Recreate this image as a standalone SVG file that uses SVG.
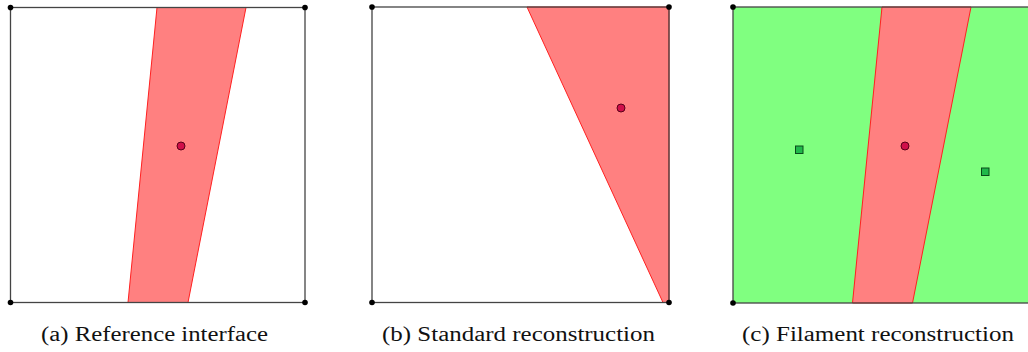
<svg xmlns="http://www.w3.org/2000/svg" width="1028" height="352" viewBox="0 0 1028 352">
<style>
.bg{fill:#ffffff}
.frame{fill:none;stroke:#444;stroke-width:1.3}
.red{fill:#ff8080;stroke:#ff2020;stroke-width:1}
.green{fill:#80ff80;stroke:none}
.corner{fill:#000}
.pt{fill:#d0104a;stroke:#5a0018;stroke-width:1}
.sq{fill:#20b84a;stroke:#0a4a1a;stroke-width:1}
.cap{font-family:'Liberation Serif','Times New Roman',serif;font-size:20.5px;fill:#111}
</style>
<rect x="0" y="0" width="1028" height="352" class="bg"/>
<g id="panel-a">
  <polygon class="red" points="157,7.5 246,7.5 188,302.5 128,302.5"/>
  <rect class="frame" x="10.5" y="7.5" width="294.5" height="295"/>
  <circle class="corner" cx="10.5" cy="7.5" r="2.8"/>
  <circle class="corner" cx="305" cy="7.5" r="2.8"/>
  <circle class="corner" cx="10.5" cy="302.5" r="2.8"/>
  <circle class="corner" cx="305" cy="302.5" r="2.8"/>
  <circle class="pt" cx="181" cy="146" r="4"/>
  <text class="cap" x="41" y="341" textLength="227" lengthAdjust="spacingAndGlyphs">(a) Reference interface</text>
</g>
<g id="panel-b">
  <polygon class="red" points="527,7 669,7 669,302.5 663,302.5"/>
  <rect class="frame" x="372" y="7" width="297" height="295.5"/>
  <circle class="corner" cx="372" cy="7" r="2.8"/>
  <circle class="corner" cx="669" cy="7" r="2.8"/>
  <circle class="corner" cx="372" cy="302.5" r="2.8"/>
  <circle class="corner" cx="669" cy="302.5" r="2.8"/>
  <circle class="pt" cx="621" cy="108" r="4"/>
  <text class="cap" x="382" y="341" textLength="273" lengthAdjust="spacingAndGlyphs">(b) Standard reconstruction</text>
</g>
<g id="panel-c">
  <rect class="green" x="733" y="7" width="300" height="296"/>
  <polygon class="red" points="882,7 971,7 912.5,303 852.5,303"/>
  <rect class="frame" x="733" y="7" width="300" height="296"/>
  <circle class="corner" cx="733" cy="7" r="2.8"/>
  <circle class="corner" cx="733" cy="303" r="2.8"/>
  <circle class="pt" cx="905" cy="146" r="4"/>
  <rect class="sq" x="795.5" y="146" width="7.5" height="7.5"/>
  <rect class="sq" x="981.5" y="168" width="7.5" height="7.5"/>
  <text class="cap" x="742" y="341" textLength="272" lengthAdjust="spacingAndGlyphs">(c) Filament reconstruction</text>
</g>
<g id="connectors"/>
</svg>
